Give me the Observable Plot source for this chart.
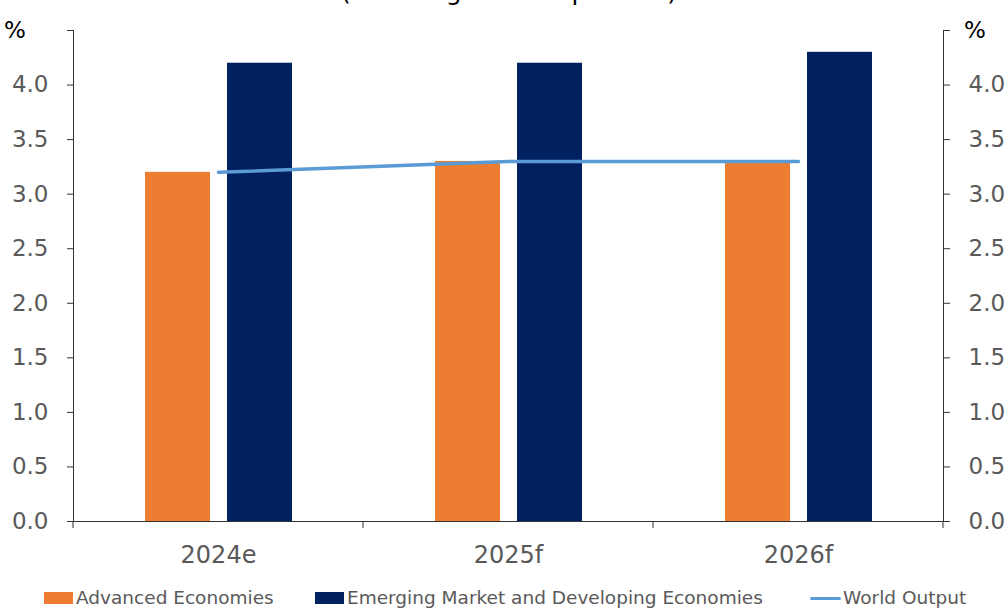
<!DOCTYPE html>
<html>
<head>
<meta charset="utf-8">
<script src="https://cdn.jsdelivr.net/npm/d3@7"></script>
<script src="https://cdn.jsdelivr.net/npm/@observablehq/plot@0.6"></script>
<style>
  html, body { margin: 0; padding: 0; background: #fff; overflow: hidden; }
  #wrap { position: relative; width: 1008px; height: 608px; font-family: "DejaVu Sans", sans-serif; }
  #overlay { position: absolute; left: 0; top: 0; pointer-events: none; }
  #legend { position: absolute; left: 0; top: 588px; width: 1008px; height: 20px;
            font-size: 18.5px; color: #595959; white-space: nowrap; line-height: 20px; }
  .item { position: absolute; top: 0; display: flex; align-items: center; height: 20px; }
  .sw { width: 29px; height: 12px; margin-right: 3px; }
  .ln { width: 31px; height: 3px; margin-right: 2px; background: #5B9BD5; border-radius: 2px; }
</style>
</head>
<body>
<div id="wrap">
  <div id="main"></div>
  <div id="overlay"></div>
  <div id="legend"></div>
</div>
<script>
// ---- data ----
const years = ["2024e", "2025f", "2026f"];
const seriesNames = ["Advanced Economies", "Emerging Market and Developing Economies"];
const advanced = [3.2, 3.3, 3.3];
const emerging = [4.2, 4.2, 4.3];
const worldName = "World Output";
const world = [3.2, 3.3, 3.3];
const yTicks = [0, 0.5, 1, 1.5, 2, 2.5, 3, 3.5, 4, 4.5];
const yTickLabels = ["0.0", "0.5", "1.0", "1.5", "2.0", "2.5", "3.0", "3.5", "4.0", ""];
const unitLabel = "%";
const titleText = "(Annual growth in percent)";
const colors = ["#ED7D31", "#002060"];
const lineColor = "#5B9BD5";

const table = years.flatMap((yr, i) => [
  {year: yr, series: seriesNames[0], value: advanced[i]},
  {year: yr, series: seriesNames[1], value: emerging[i]}
]);
const worldTable = years.map((yr, i) => ({year: yr, value: world[i]}));

const W = 1008, H = 575, mL = 73, mR = 65, mT = 30, mB = 54;
const font = "DejaVu Sans";
const fmt = d => yTickLabels[yTicks.indexOf(d)];

const axisOpts = {ticks: yTicks, tickFormat: fmt, tickSize: 6, tickPadding: 19, fontSize: 23,
  fill: "#595959", stroke: "#333", label: null};

const main = Plot.plot({
  width: W, height: H, marginLeft: mL, marginRight: mR, marginTop: mT, marginBottom: mB,
  style: {fontFamily: font, background: "transparent", overflow: "visible"},
  fx: {domain: years, padding: 0, label: null},
  x: {domain: seriesNames, paddingInner: 0.21, paddingOuter: 0.87, axis: null},
  y: {domain: [0, 4.5]},
  color: {domain: seriesNames, range: colors},
  marks: [
    Plot.barY(table, {fx: "year", x: "series", y: "value", fill: "series"}),
    Plot.ruleY([0], {stroke: "#333", strokeWidth: 1}),
    Plot.frame({anchor: "left", facetAnchor: "left", stroke: "#333"}),
    Plot.frame({anchor: "right", facetAnchor: "right", stroke: "#333"}),
    Plot.axisY({anchor: "left", ...axisOpts}),
    Plot.axisY({anchor: "right", ...axisOpts}),
    Plot.axisFx({anchor: "bottom", tickSize: 0, tickPadding: 24, fontSize: 24, fill: "#595959", label: null})
  ]
});
document.getElementById("main").appendChild(main);

// category boundary ticks on the baseline, from the fx scale
const fxs = main.scale("fx"), ys = main.scale("y");
const y0 = ys.apply(0);
const bounds = years.map(d => fxs.apply(d)).concat([fxs.apply(years[years.length - 1]) + fxs.bandwidth]);
const svg = d3.select(main.tagName.toLowerCase() === "svg" ? main : main.querySelector("svg"));
svg.append("g").attr("stroke", "#333").selectAll("line").data(bounds).join("line")
  .attr("x1", d => d).attr("x2", d => d).attr("y1", y0).attr("y2", y0 + 7);

// unit labels and (clipped, as in the source) title
const yTop = ys.apply(4.5);
svg.append("text").text(unitLabel).attr("x", 15).attr("y", yTop + 8)
  .attr("font-size", 23).attr("font-family", font).attr("fill", "#000");
svg.append("text").text(unitLabel).attr("x", 975).attr("y", yTop + 8)
  .attr("font-size", 23).attr("font-family", font).attr("fill", "#000");
svg.append("text").text(titleText).attr("x", 509).attr("y", 0).attr("text-anchor", "middle")
  .attr("font-size", 25).attr("font-family", font).attr("fill", "#000");

// overlay: world output line
const over = Plot.plot({
  width: W, height: H, marginLeft: mL, marginRight: mR, marginTop: mT, marginBottom: mB,
  style: {fontFamily: font, background: "transparent"},
  x: {type: "point", domain: years, padding: 0.5, axis: null},
  y: {domain: [0, 4.5], axis: null},
  marks: [
    Plot.line(worldTable, {x: "year", y: "value", stroke: lineColor, strokeWidth: 3.5, strokeLinecap: "round"})
  ]
});
document.getElementById("overlay").appendChild(over);

// legend
const legendLeft = [44, 315, 810];
const lg = d3.select("#legend");
seriesNames.forEach((s, i) => {
  const it = lg.append("div").attr("class", "item").style("left", legendLeft[i] + "px");
  it.append("div").attr("class", "sw").style("background", colors[i]);
  it.append("span").text(s);
});
const it = lg.append("div").attr("class", "item").style("left", legendLeft[2] + "px");
it.append("div").attr("class", "ln");
it.append("span").text(worldName);
</script>
</body>
</html>
